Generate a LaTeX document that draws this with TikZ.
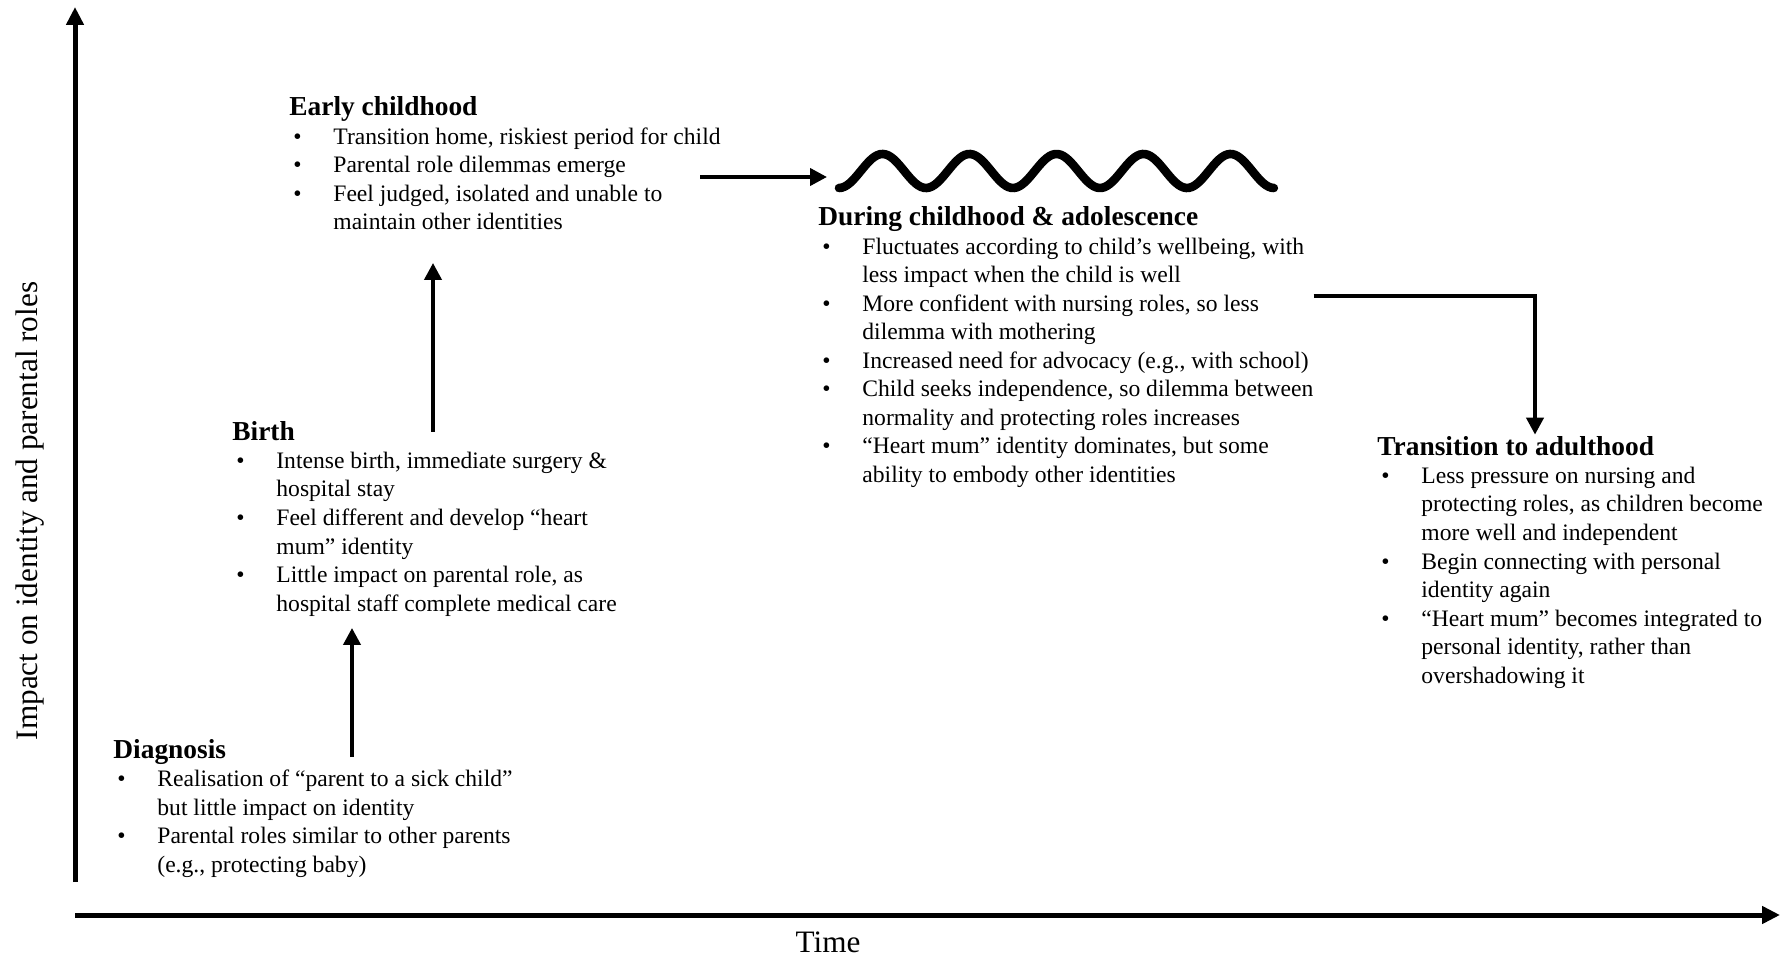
\documentclass[tikz,border=0pt]{standalone}
\usepackage{fontspec}
\setmainfont{Liberation Serif}
\usetikzlibrary{arrows.meta,calc}

\newcommand{\stagefont}{\fontsize{11.8}{14.25}\selectfont}
\newcommand{\stagehead}[1]{\multicolumn{2}{@{}l@{}}{\fontsize{13.7}{16}\selectfont\bfseries #1}}
\newenvironment{stagelist}{\begin{tabular}[t]{@{\hspace{2pt}}p{20pt}@{}l@{}}}{\end{tabular}}

\begin{document}
\begin{tikzpicture}[x=0.5pt,y=-0.5pt,
    stage/.style={anchor=base west, inner sep=0pt, font=\stagefont},
    axislabel/.style={anchor=base, inner sep=0pt, font=\fontsize{15.6}{18}\selectfont},
    flow/.style={line width=2pt, -{Triangle[length=8.5pt,width=8.5pt]}},
    axis/.style={line width=2.5pt, -{Triangle[length=9pt,width=8.5pt]}},
    wavy/.style={line width=4.3pt, line cap=round}]
    \useasboundingbox (0,0) rectangle (1780,956);

    % axes
    \draw[axis] (75,882) -- (75,7);
    \draw[axis] (75,915) -- (1780,915);
    \node[axislabel, rotate=90] (ylabel) at (37,511) {Impact on identity and parental roles};
    \node[axislabel] (tlabel) at (828,952) {Time};

    % stages
    \node[stage] (diag) at (113,758) {\begin{stagelist}
      \stagehead{Diagnosis}\\
      \textbullet & Realisation of “parent to a sick child”\\
      & but little impact on identity\\
      \textbullet & Parental roles similar to other parents\\
      & (e.g., protecting baby)
    \end{stagelist}};

    \node[stage] (birth) at (232,440) {\begin{stagelist}
      \stagehead{Birth}\\
      \textbullet & Intense birth, immediate surgery \&\\
      & hospital stay\\
      \textbullet & Feel different and develop “heart\\
      & mum” identity\\
      \textbullet & Little impact on parental role, as\\
      & hospital staff complete medical care
    \end{stagelist}};

    \node[stage] (early) at (289,116) {\begin{stagelist}
      \stagehead{Early childhood}\\
      \textbullet & Transition home, riskiest period for child\\
      \textbullet & Parental role dilemmas emerge\\
      \textbullet & Feel judged, isolated and unable to\\
      & maintain other identities
    \end{stagelist}};

    \node[stage] (during) at (818,226) {\begin{stagelist}
      \stagehead{During childhood \& adolescence}\\
      \textbullet & Fluctuates according to child’s wellbeing, with\\
      & less impact when the child is well\\
      \textbullet & More confident with nursing roles, so less\\
      & dilemma with mothering\\
      \textbullet & Increased need for advocacy (e.g., with school)\\
      \textbullet & Child seeks independence, so dilemma between\\
      & normality and protecting roles increases\\
      \textbullet & “Heart mum” identity dominates, but some\\
      & ability to embody other identities
    \end{stagelist}};

    \node[stage] (trans) at (1377,455) {\begin{stagelist}
      \stagehead{Transition to adulthood}\\
      \textbullet & Less pressure on nursing and\\
      & protecting roles, as children become\\
      & more well and independent\\
      \textbullet & Begin connecting with personal\\
      & identity again\\
      \textbullet & “Heart mum” becomes integrated to\\
      & personal identity, rather than\\
      & overshadowing it
    \end{stagelist}};

    % fluctuating period
    \coordinate (wavestart) at (839,188);
    \draw[wavy] plot[domain=0:5, samples=160, smooth] ({839+87*\x},{171+17*cos(360*\x)});

    % transitions
    \coordinate (diagup) at (352,757);
    \coordinate (birthup) at (433,432);
    \coordinate (earlyout) at (700,177);
    \coordinate (bend) at (1535,296);
    \draw[flow, shorten >=4pt] (diagup) -- (diagup |- birth.south);
    \draw[flow, shorten >=12pt] (birthup) -- (birthup |- early.south);
    \draw[flow, shorten >=6pt] (earlyout) -- (earlyout -| wavestart);
    \draw[flow] (during.east |- bend) -- (bend) -- (bend |- trans.north);
\end{tikzpicture}
\end{document}
